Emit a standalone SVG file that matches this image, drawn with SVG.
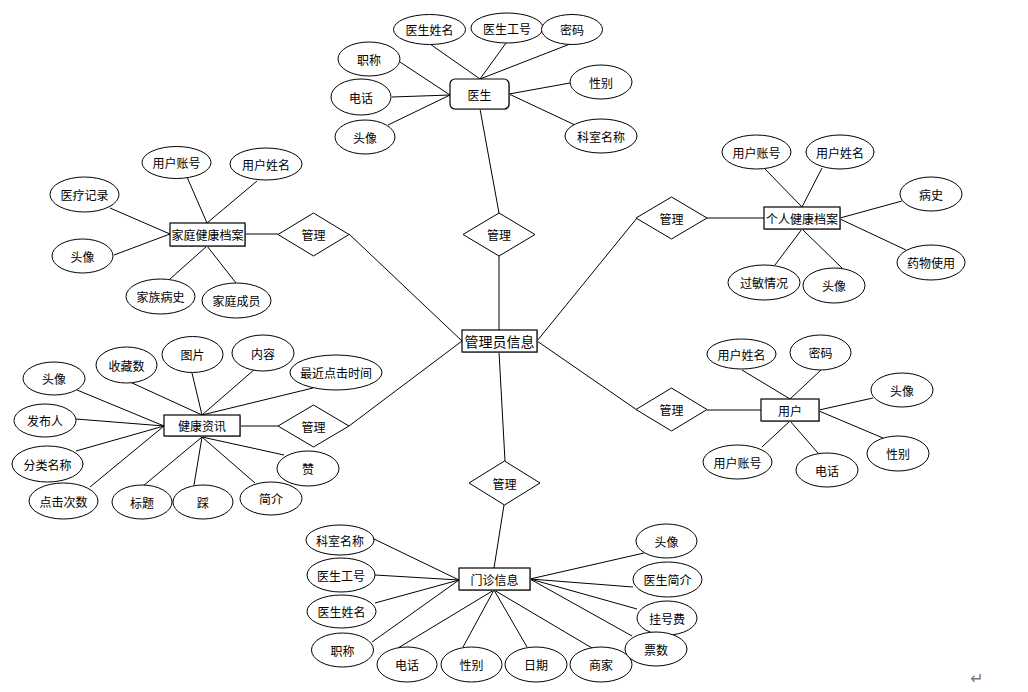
<svg xmlns="http://www.w3.org/2000/svg" width="1028" height="692" viewBox="0 0 1028 692">
<defs>
<style>
text{font-family:"Noto Sans CJK SC","Liberation Sans",sans-serif;font-size:12px;fill:#000;text-anchor:middle;dominant-baseline:central}
.big{font-size:14px}
ellipse{fill:#fff;stroke:#000;stroke-width:1}
.ent{fill:#fff;stroke:#000;stroke-width:1.2}
.sh{fill:#b0b0b0;stroke:none}
polygon{fill:#fff;stroke:#000;stroke-width:1}
#connectors line{stroke:#000;stroke-width:1}
</style>
</defs>
<rect width="1028" height="692" fill="#fff"/>
<g id="connectors">
<!-- doctor -->
<line x1="430" y1="44" x2="480" y2="79"/>
<line x1="506" y1="43" x2="480" y2="79"/>
<line x1="570" y1="44" x2="480" y2="79"/>
<line x1="400" y1="62" x2="450" y2="95"/>
<line x1="392" y1="97" x2="450" y2="95"/>
<line x1="388" y1="125" x2="450" y2="95"/>
<line x1="570" y1="83" x2="509" y2="94"/>
<line x1="575" y1="125" x2="509" y2="94"/>
<line x1="480" y1="109" x2="499" y2="213"/>
<!-- center -->
<line x1="499" y1="256" x2="499" y2="330"/>
<line x1="499" y1="352" x2="505" y2="461"/>
<line x1="349" y1="234" x2="462" y2="341"/>
<line x1="349" y1="426" x2="462" y2="341"/>
<line x1="637" y1="218" x2="537" y2="341"/>
<line x1="637" y1="410" x2="537" y2="341"/>
<!-- family -->
<line x1="245" y1="234" x2="278" y2="234"/>
<line x1="187" y1="177" x2="207" y2="223"/>
<line x1="257" y1="181" x2="207" y2="223"/>
<line x1="110" y1="208" x2="170" y2="234"/>
<line x1="114" y1="255" x2="170" y2="234"/>
<line x1="170" y1="279" x2="207" y2="246"/>
<line x1="236" y1="283" x2="207" y2="246"/>
<!-- health info -->
<line x1="240" y1="426" x2="278" y2="426"/>
<line x1="77" y1="390" x2="164" y2="426"/>
<line x1="76" y1="419" x2="164" y2="426"/>
<line x1="76" y1="451" x2="164" y2="426"/>
<line x1="90" y1="487" x2="164" y2="426"/>
<line x1="130" y1="382" x2="202" y2="415"/>
<line x1="192" y1="373" x2="202" y2="415"/>
<line x1="255" y1="369" x2="202" y2="415"/>
<line x1="313" y1="388" x2="202" y2="415"/>
<line x1="143" y1="486" x2="202" y2="437"/>
<line x1="194" y1="485" x2="202" y2="437"/>
<line x1="255" y1="483" x2="202" y2="437"/>
<line x1="284" y1="455" x2="202" y2="437"/>
<!-- personal -->
<line x1="707" y1="218" x2="764" y2="218"/>
<line x1="765" y1="169" x2="802" y2="207"/>
<line x1="822" y1="168" x2="802" y2="207"/>
<line x1="902" y1="201" x2="840" y2="218"/>
<line x1="906" y1="250" x2="840" y2="219"/>
<line x1="775" y1="265" x2="802" y2="229"/>
<line x1="842" y1="268" x2="802" y2="229"/>
<!-- user -->
<line x1="707" y1="410" x2="761" y2="410"/>
<line x1="742" y1="370" x2="790" y2="399"/>
<line x1="821" y1="370" x2="790" y2="399"/>
<line x1="873" y1="398" x2="819" y2="410"/>
<line x1="883" y1="438" x2="819" y2="411"/>
<line x1="818" y1="453" x2="790" y2="421"/>
<line x1="762" y1="447" x2="790" y2="421"/>
<!-- clinic -->
<line x1="504" y1="505" x2="494" y2="568"/>
<line x1="374" y1="539" x2="459" y2="580"/>
<line x1="375" y1="575" x2="459" y2="580"/>
<line x1="375" y1="603" x2="459" y2="580"/>
<line x1="372" y1="642" x2="459" y2="580"/>
<line x1="398" y1="648" x2="494" y2="590"/>
<line x1="463" y1="647" x2="494" y2="590"/>
<line x1="527" y1="647" x2="494" y2="590"/>
<line x1="592" y1="648" x2="494" y2="590"/>
<line x1="644" y1="553" x2="530" y2="579"/>
<line x1="633" y1="587" x2="530" y2="579"/>
<line x1="637" y1="609" x2="530" y2="579"/>
<line x1="632" y1="636" x2="530" y2="579"/>
</g>

<g id="doctor">
<rect class="sh" x="451" y="80" width="59" height="30" rx="5"/>
<rect class="ent" x="450" y="79" width="59" height="30" rx="5"/>
<text x="479.5" y="94">医生</text>
</g>
<g id="doctor-attrs">
<ellipse cx="429.5" cy="29.5" rx="36" ry="15"/><text x="429.5" y="29.5">医生姓名</text>
<ellipse cx="507" cy="28" rx="36" ry="15"/><text x="507" y="28">医生工号</text>
<ellipse cx="572" cy="29.5" rx="30.5" ry="15"/><text x="572" y="29.5">密码</text>
<ellipse cx="369" cy="59" rx="31" ry="17"/><text x="369" y="59">职称</text>
<ellipse cx="361" cy="97" rx="30" ry="18"/><text x="361" y="97">电话</text>
<ellipse cx="365" cy="137" rx="30" ry="17"/><text x="365" y="137">头像</text>
<ellipse cx="601" cy="82" rx="31" ry="17"/><text x="601" y="82">性别</text>
<ellipse cx="601" cy="136" rx="36" ry="17"/><text x="601" y="136">科室名称</text>
</g>
<g id="rel-doctor"><polygon points="499,213 535,234.5 499,256 463,234.5"/><text x="499" y="234.5">管理</text></g>

<g id="admin">
<rect class="sh" x="463" y="331" width="75" height="22"/>
<rect class="ent" x="462" y="330" width="75" height="22"/>
<text class="big" x="499.5" y="341">管理员信息</text>
</g>

<g id="family">
<rect class="sh" x="171" y="224" width="75" height="23"/>
<rect class="ent" x="170" y="223" width="75" height="23"/>
<text x="207.5" y="234.5">家庭健康档案</text>
</g>
<g id="family-attrs">
<ellipse cx="176.5" cy="162.5" rx="34.5" ry="16"/><text x="176.5" y="162.5">用户账号</text>
<ellipse cx="266" cy="164" rx="36" ry="16"/><text x="266" y="164">用户姓名</text>
<ellipse cx="84.5" cy="194.5" rx="34.5" ry="17.5"/><text x="84.5" y="194.5">医疗记录</text>
<ellipse cx="82.5" cy="256" rx="30.5" ry="17"/><text x="82.5" y="256">头像</text>
<ellipse cx="160.5" cy="296.5" rx="34.5" ry="17.5"/><text x="160.5" y="296.5">家族病史</text>
<ellipse cx="236.5" cy="300.5" rx="34.5" ry="17.5"/><text x="236.5" y="300.5">家庭成员</text>
</g>
<g id="rel-family"><polygon points="313.5,213 349,234.5 313.5,256 278,234.5"/><text x="313.5" y="234.5">管理</text></g>

<g id="info">
<rect class="sh" x="165" y="416" width="76" height="21"/>
<rect class="ent" x="164" y="415" width="76" height="21"/>
<text x="202" y="425.5">健康资讯</text>
</g>
<g id="info-attrs">
<ellipse cx="54" cy="378.5" rx="31" ry="16.5"/><text x="54" y="378.5">头像</text>
<ellipse cx="126.5" cy="365" rx="30.5" ry="18"/><text x="126.5" y="365">收藏数</text>
<ellipse cx="192.5" cy="354.5" rx="30.5" ry="18"/><text x="192.5" y="354.5">图片</text>
<ellipse cx="263" cy="353" rx="31" ry="18"/><text x="263" y="353">内容</text>
<ellipse cx="336" cy="372.5" rx="46" ry="17.5"/><text x="336" y="372.5">最近点击时间</text>
<ellipse cx="45" cy="420.5" rx="31" ry="16.5"/><text x="45" y="420.5">发布人</text>
<ellipse cx="47.5" cy="464" rx="35.5" ry="18"/><text x="47.5" y="464">分类名称</text>
<ellipse cx="63.5" cy="501" rx="34.5" ry="18"/><text x="63.5" y="501">点击次数</text>
<ellipse cx="142" cy="502" rx="30" ry="17"/><text x="142" y="502">标题</text>
<ellipse cx="203" cy="502" rx="30" ry="17"/><text x="203" y="502">踩</text>
<ellipse cx="271" cy="498.5" rx="31" ry="16.5"/><text x="271" y="498.5">简介</text>
<ellipse cx="308" cy="468.5" rx="31" ry="17.5"/><text x="308" y="468.5">赞</text>
</g>
<g id="rel-info"><polygon points="313.5,405 349,426 313.5,447 278,426"/><text x="313.5" y="426">管理</text></g>

<g id="personal">
<rect class="sh" x="765" y="208" width="76" height="22"/>
<rect class="ent" x="764" y="207" width="76" height="22"/>
<text x="802" y="218">个人健康档案</text>
</g>
<g id="personal-attrs">
<ellipse cx="756.5" cy="152" rx="34.5" ry="17"/><text x="756.5" y="152">用户账号</text>
<ellipse cx="840" cy="152" rx="34" ry="17"/><text x="840" y="152">用户姓名</text>
<ellipse cx="931" cy="194" rx="31" ry="17"/><text x="931" y="194">病史</text>
<ellipse cx="931" cy="262.5" rx="34" ry="17.5"/><text x="931" y="262.5">药物使用</text>
<ellipse cx="764" cy="282.5" rx="36" ry="17.5"/><text x="764" y="282.5">过敏情况</text>
<ellipse cx="834" cy="285.5" rx="31" ry="17.5"/><text x="834" y="285.5">头像</text>
</g>
<g id="rel-personal"><polygon points="671.5,197 707,218 671.5,239 636,218"/><text x="671.5" y="218">管理</text></g>

<g id="user">
<rect class="sh" x="762" y="400" width="58" height="22"/>
<rect class="ent" x="761" y="399" width="58" height="22"/>
<text x="790" y="410">用户</text>
</g>
<g id="user-attrs">
<ellipse cx="741.5" cy="354" rx="34.5" ry="15"/><text x="741.5" y="354">用户姓名</text>
<ellipse cx="820.5" cy="352.5" rx="30.5" ry="17.5"/><text x="820.5" y="352.5">密码</text>
<ellipse cx="902" cy="390" rx="31" ry="17"/><text x="902" y="390">头像</text>
<ellipse cx="898" cy="453.5" rx="31" ry="17.5"/><text x="898" y="453.5">性别</text>
<ellipse cx="827" cy="470" rx="31" ry="17"/><text x="827" y="470">电话</text>
<ellipse cx="737.5" cy="462" rx="34.5" ry="17"/><text x="737.5" y="462">用户账号</text>
</g>
<g id="rel-user"><polygon points="671.5,388 707,409.5 671.5,431 636,409.5"/><text x="671.5" y="409.5">管理</text></g>

<g id="clinic">
<rect class="sh" x="460" y="569" width="71" height="22"/>
<rect class="ent" x="459" y="568" width="71" height="22"/>
<text x="494.5" y="579">门诊信息</text>
</g>
<g id="clinic-attrs">
<ellipse cx="340" cy="540" rx="34" ry="15"/><text x="340" y="540">科室名称</text>
<ellipse cx="341" cy="575" rx="34" ry="17"/><text x="341" y="575">医生工号</text>
<ellipse cx="341.5" cy="611.5" rx="34.5" ry="16.5"/><text x="341.5" y="611.5">医生姓名</text>
<ellipse cx="342.5" cy="650" rx="31" ry="17"/><text x="342.5" y="650">职称</text>
<ellipse cx="407" cy="664.5" rx="30" ry="17.5"/><text x="407" y="664.5">电话</text>
<ellipse cx="471.5" cy="664.5" rx="30.5" ry="17.5"/><text x="471.5" y="664.5">性别</text>
<ellipse cx="536" cy="664.5" rx="31" ry="17.5"/><text x="536" y="664.5">日期</text>
<ellipse cx="601" cy="664.5" rx="31" ry="17.5"/><text x="601" y="664.5">商家</text>
<ellipse cx="667" cy="618" rx="30" ry="17"/><text x="667" y="618">挂号费</text>
<ellipse cx="656" cy="649" rx="31" ry="17"/><text x="656" y="649">票数</text>
<ellipse cx="667.5" cy="579.5" rx="34.5" ry="17.5"/><text x="667.5" y="579.5">医生简介</text>
<ellipse cx="666.5" cy="541" rx="30.5" ry="17"/><text x="666.5" y="541">头像</text>
</g>
<g id="rel-clinic"><polygon points="504.5,461 540,483 504.5,505 469,483"/><text x="504.5" y="483">管理</text></g>

<text x="977" y="678" style="font-family:'DejaVu Sans',sans-serif;font-size:16px;fill:#777">↵</text>
</svg>
